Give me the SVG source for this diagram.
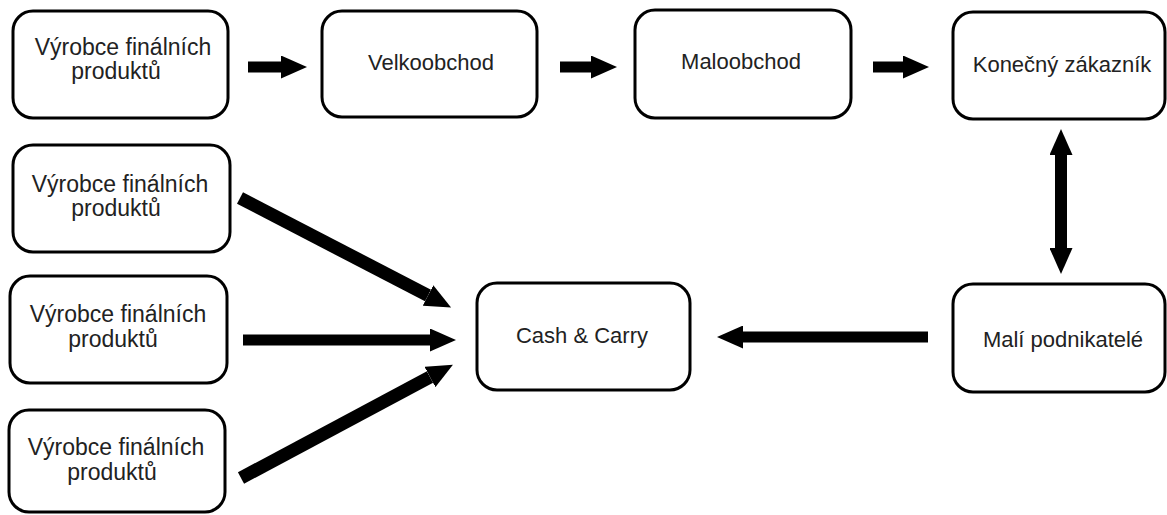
<svg xmlns="http://www.w3.org/2000/svg" width="1167" height="515" viewBox="0 0 1167 515">
  <style>
    .box { fill: #ffffff; stroke: #000000; stroke-width: 3; }
    .lbl { font-family: "Liberation Sans", Arial, sans-serif; font-size: 22px; fill: #222222; text-anchor: middle; }
    .lbl2 { font-size: 23px; }
    .shaft { stroke: #000000; stroke-width: 11; fill: none; }
  </style>
  <defs>
    <marker id="head" markerUnits="userSpaceOnUse" markerWidth="26" markerHeight="23" refX="0" refY="11.5" orient="auto-start-reverse">
      <path d="M0,0 L26,11.5 L0,23 z" fill="#000000"/>
    </marker>
  </defs>
  <rect width="1167" height="515" fill="#ffffff"/>

  <!-- supply chain, top row -->
  <g id="vyrobce-1">
    <rect class="box" x="13" y="11" width="215" height="107" rx="20"/>
    <text class="lbl lbl2" x="123" y="55">Výrobce finálních</text>
    <text class="lbl lbl2" x="116" y="79">produktů</text>
  </g>
  <g id="velkoobchod">
    <rect class="box" x="322" y="11" width="215" height="106" rx="20"/>
    <text class="lbl" x="431" y="70">Velkoobchod</text>
  </g>
  <g id="maloobchod">
    <rect class="box" x="635" y="10" width="216" height="108" rx="20"/>
    <text class="lbl" x="741" y="69">Maloobchod</text>
  </g>
  <g id="konecny-zakaznik">
    <rect class="box" x="953" y="12" width="212" height="107" rx="20"/>
    <text class="lbl" x="1062" y="72">Konečný zákazník</text>
  </g>

  <!-- producers feeding the wholesale depot -->
  <g id="vyrobce-2">
    <rect class="box" x="13" y="145" width="217" height="107" rx="20"/>
    <text class="lbl lbl2" x="120" y="192">Výrobce finálních</text>
    <text class="lbl lbl2" x="116" y="216">produktů</text>
  </g>
  <g id="vyrobce-3">
    <rect class="box" x="10" y="276" width="217" height="107" rx="20"/>
    <text class="lbl lbl2" x="118" y="322">Výrobce finálních</text>
    <text class="lbl lbl2" x="113" y="347">produktů</text>
  </g>
  <g id="vyrobce-4">
    <rect class="box" x="9" y="410" width="216" height="102" rx="20"/>
    <text class="lbl lbl2" x="116" y="455">Výrobce finálních</text>
    <text class="lbl lbl2" x="112" y="480">produktů</text>
  </g>
  <g id="cash-carry">
    <rect class="box" x="477" y="283" width="213" height="107" rx="20"/>
    <text class="lbl" x="582" y="343">Cash &amp; Carry</text>
  </g>
  <g id="mali-podnikatele">
    <rect class="box" x="953" y="284" width="212" height="108" rx="20"/>
    <text class="lbl" x="1063" y="347">Malí podnikatelé</text>
  </g>

  <!-- connectors -->
  <g id="connectors">
    <line class="shaft" x1="248" y1="67" x2="281" y2="67" marker-end="url(#head)"/>
    <line class="shaft" x1="560" y1="67" x2="591" y2="67" marker-end="url(#head)"/>
    <line class="shaft" x1="873" y1="67" x2="903" y2="67" marker-end="url(#head)"/>
    <line class="shaft" x1="1061" y1="155" x2="1061" y2="248" marker-start="url(#head)" marker-end="url(#head)" style="stroke-width:12"/>
    <line class="shaft" x1="928" y1="337" x2="743" y2="337" marker-end="url(#head)"/>
    <line class="shaft" x1="240" y1="198" x2="428" y2="295.5" marker-end="url(#head)" style="stroke-width:13"/>
    <line class="shaft" x1="243" y1="340" x2="430" y2="340" marker-end="url(#head)"/>
    <line class="shaft" x1="241" y1="478" x2="430" y2="377" marker-end="url(#head)" style="stroke-width:13"/>
  </g>
</svg>
